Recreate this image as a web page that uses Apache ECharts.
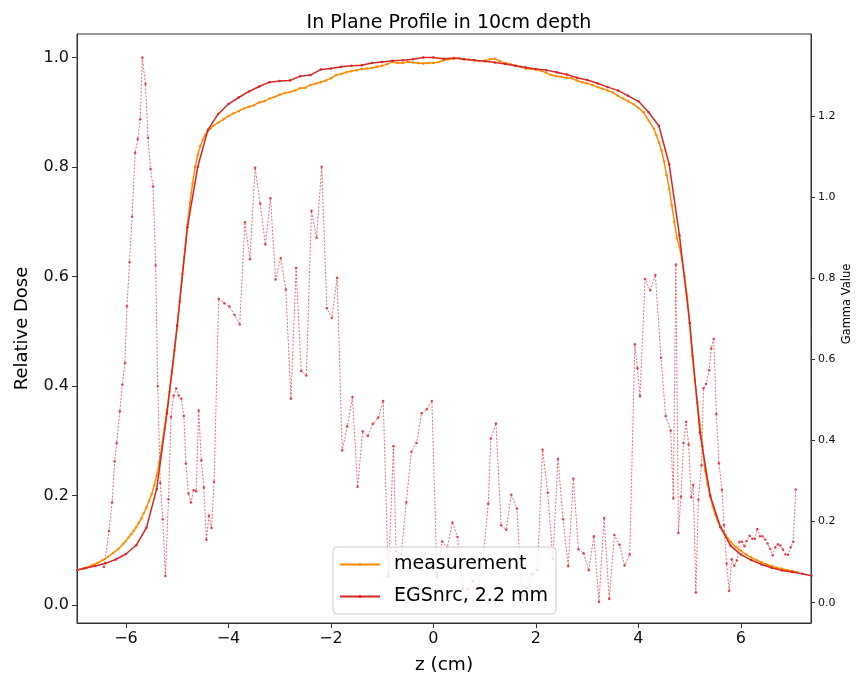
<!DOCTYPE html>
<html>
<head>
<meta charset="utf-8">
<script src="https://cdn.jsdelivr.net/npm/echarts@6/dist/echarts.min.js"></script>
<style>
html,body{margin:0;padding:0;background:#fff;}
#chart{width:857px;height:679px;}
</style>
</head>
<body>
<div id="chart"></div>
<script>
// ---- data ----
const xTicks = [-6, -4, -2, 0, 2, 4, 6];
const doseTicks = [0, 0.2, 0.4, 0.6, 0.8, 1.0];
const gammaTicks = [0, 0.2, 0.4, 0.6, 0.8, 1.0, 1.2];

const measZ = [-6.95,-6.85,-6.75,-6.65,-6.55,-6.45,-6.35,-6.25,-6.15,-6.05,-6.00,-5.95,-5.90,-5.85,-5.80,-5.75,-5.70,-5.65,-5.60,-5.55,-5.50,-5.45,-5.40,-5.35,-5.30,-5.25,-5.20,-5.15,-5.10,-5.05,-5.00,-4.95,-4.90,-4.85,-4.80,-4.75,-4.70,-4.65,-4.60,-4.55,-4.50,-4.45,-4.40,-4.35,-4.30,-4.20,-4.10,-4.00,-3.90,-3.80,-3.70,-3.60,-3.50,-3.40,-3.30,-3.20,-3.10,-3.00,-2.90,-2.80,-2.70,-2.60,-2.50,-2.40,-2.30,-2.20,-2.10,-2.00,-1.90,-1.80,-1.70,-1.60,-1.50,-1.40,-1.30,-1.20,-1.10,-1.00,-0.90,-0.80,-0.70,-0.60,-0.50,-0.40,-0.30,-0.20,-0.10,0.00,0.10,0.20,0.30,0.40,0.50,0.60,0.70,0.80,0.90,1.00,1.10,1.20,1.30,1.40,1.50,1.60,1.70,1.80,1.90,2.00,2.10,2.20,2.30,2.40,2.50,2.60,2.70,2.80,2.90,3.00,3.10,3.20,3.30,3.40,3.50,3.60,3.70,3.80,3.90,4.00,4.10,4.20,4.30,4.35,4.40,4.45,4.50,4.55,4.60,4.65,4.70,4.75,4.80,4.85,4.90,4.95,5.00,5.05,5.10,5.15,5.20,5.25,5.30,5.35,5.40,5.45,5.50,5.55,5.60,5.65,5.70,5.75,5.80,5.90,6.00,6.10,6.20,6.30,6.40,6.50,6.60,6.70,6.80,6.90,7.00,7.10];
const measDose = [0.064,0.066,0.069,0.073,0.077,0.082,0.088,0.095,0.102,0.112,0.117,0.123,0.129,0.135,0.142,0.150,0.158,0.168,0.178,0.190,0.202,0.218,0.236,0.260,0.290,0.322,0.355,0.390,0.425,0.465,0.510,0.555,0.605,0.650,0.695,0.735,0.770,0.800,0.822,0.838,0.850,0.859,0.866,0.871,0.875,0.881,0.887,0.893,0.898,0.902,0.907,0.910,0.913,0.918,0.920,0.925,0.928,0.932,0.935,0.937,0.940,0.944,0.945,0.950,0.952,0.955,0.958,0.962,0.968,0.970,0.973,0.975,0.977,0.979,0.980,0.981,0.983,0.985,0.988,0.992,0.990,0.990,0.992,0.991,0.990,0.989,0.990,0.990,0.992,0.995,0.997,0.998,0.999,0.997,0.996,0.995,0.993,0.994,0.997,0.998,0.993,0.990,0.988,0.985,0.983,0.980,0.979,0.978,0.976,0.972,0.968,0.966,0.965,0.963,0.962,0.958,0.955,0.953,0.950,0.946,0.943,0.940,0.936,0.930,0.925,0.920,0.915,0.908,0.900,0.885,0.870,0.858,0.845,0.830,0.810,0.785,0.760,0.730,0.700,0.670,0.655,0.630,0.600,0.565,0.515,0.455,0.410,0.370,0.330,0.290,0.245,0.220,0.198,0.180,0.165,0.153,0.143,0.135,0.128,0.121,0.115,0.106,0.099,0.092,0.087,0.082,0.078,0.074,0.071,0.068,0.066,0.064,0.062,0.060];

const egsZ = [-7.0,-6.8,-6.6,-6.4,-6.2,-6.0,-5.8,-5.6,-5.4,-5.2,-5.0,-4.8,-4.6,-4.4,-4.2,-4.0,-3.8,-3.6,-3.4,-3.2,-3.0,-2.8,-2.6,-2.4,-2.2,-2.0,-1.8,-1.6,-1.4,-1.2,-1.0,-0.8,-0.6,-0.4,-0.2,0.0,0.2,0.4,0.6,0.8,1.0,1.2,1.4,1.6,1.8,2.0,2.2,2.4,2.6,2.8,3.0,3.2,3.4,3.6,3.8,4.0,4.2,4.4,4.6,4.8,5.0,5.2,5.4,5.6,5.8,6.0,6.2,6.4,6.6,6.8,7.0,7.2,7.4];
const egsDose = [0.063,0.067,0.071,0.076,0.083,0.093,0.109,0.141,0.212,0.350,0.510,0.690,0.800,0.868,0.897,0.915,0.927,0.938,0.947,0.955,0.957,0.958,0.966,0.968,0.978,0.980,0.983,0.985,0.986,0.990,0.992,0.994,0.995,0.997,1.000,1.000,0.998,0.999,0.997,0.995,0.993,0.991,0.988,0.985,0.982,0.979,0.977,0.973,0.969,0.963,0.959,0.953,0.946,0.940,0.930,0.920,0.900,0.875,0.805,0.675,0.515,0.315,0.200,0.142,0.108,0.092,0.082,0.074,0.068,0.063,0.060,0.057,0.053];

const gammaZ = [-6.43,-6.33,-6.27,-6.22,-6.18,-6.12,-6.07,-6.02,-5.98,-5.93,-5.88,-5.82,-5.77,-5.72,-5.68,-5.62,-5.57,-5.52,-5.47,-5.42,-5.38,-5.33,-5.28,-5.23,-5.17,-5.12,-5.07,-5.02,-4.97,-4.92,-4.87,-4.83,-4.78,-4.73,-4.68,-4.63,-4.58,-4.53,-4.48,-4.43,-4.38,-4.33,-4.28,-4.19,-4.08,-3.98,-3.88,-3.78,-3.68,-3.58,-3.48,-3.38,-3.28,-3.18,-3.08,-2.98,-2.88,-2.78,-2.68,-2.58,-2.48,-2.38,-2.28,-2.18,-2.08,-1.98,-1.88,-1.78,-1.68,-1.58,-1.48,-1.38,-1.28,-1.18,-1.08,-0.98,-0.88,-0.78,-0.73,-0.63,-0.53,-0.43,-0.33,-0.23,-0.13,-0.03,0.07,0.17,0.27,0.37,0.47,0.57,0.67,0.77,0.87,0.97,1.07,1.12,1.22,1.32,1.42,1.52,1.63,1.73,1.83,1.93,2.03,2.13,2.23,2.33,2.43,2.53,2.63,2.73,2.83,2.93,3.03,3.13,3.23,3.33,3.43,3.53,3.63,3.73,3.83,3.93,3.98,4.03,4.13,4.23,4.33,4.44,4.53,4.63,4.68,4.73,4.78,4.83,4.88,4.93,4.98,5.03,5.07,5.12,5.17,5.23,5.27,5.32,5.38,5.42,5.47,5.52,5.57,5.63,5.67,5.72,5.77,5.82,5.87,5.92,5.97,6.02,6.07,6.11,6.17,6.22,6.27,6.32,6.37,6.42,6.47,6.52,6.57,6.62,6.67,6.72,6.77,6.82,6.87,6.92,6.97,7.02,7.07];
const gammaVal = [0.088,0.177,0.247,0.349,0.394,0.472,0.538,0.591,0.731,0.840,0.952,1.109,1.143,1.192,1.344,1.279,1.146,1.069,1.026,0.831,0.534,0.295,0.206,0.066,0.255,0.458,0.510,0.528,0.511,0.503,0.460,0.343,0.269,0.247,0.277,0.275,0.474,0.351,0.284,0.155,0.215,0.184,0.298,0.749,0.738,0.730,0.709,0.686,0.938,0.847,1.072,0.984,0.883,0.997,0.797,0.850,0.772,0.503,0.825,0.571,0.560,0.966,0.900,1.075,0.726,0.702,0.801,0.375,0.435,0.507,0.285,0.423,0.411,0.441,0.456,0.497,0.065,0.386,0.127,0.119,0.247,0.372,0.394,0.467,0.477,0.497,0.063,0.151,0.136,0.198,0.162,0.035,0.033,0.053,0.033,0.110,0.244,0.405,0.442,0.191,0.180,0.266,0.232,0.001,0.036,0.070,0.081,0.377,0.271,0.108,0.355,0.206,0.090,0.306,0.132,0.122,0.080,0.164,0.002,0.209,0.009,0.167,0.143,0.092,0.119,0.637,0.578,0.509,0.798,0.770,0.808,0.604,0.460,0.424,0.257,0.834,0.172,0.261,0.394,0.446,0.390,0.260,0.291,0.025,0.254,0.339,0.529,0.539,0.573,0.627,0.650,0.465,0.344,0.278,0.191,0.096,0.029,0.107,0.091,0.104,0.150,0.150,0.139,0.152,0.165,0.158,0.157,0.182,0.164,0.164,0.156,0.146,0.133,0.117,0.137,0.144,0.141,0.131,0.119,0.118,0.137,0.150,0.279];

// ---- chart ----
const FONT = 'DejaVu Sans';
const fmt = (v, d) => (v < 0 ? '\u2212' : '') + Math.abs(v).toFixed(d);
const zip = (a, b) => a.map((v, i) => [v, b[i]]);

const chart = echarts.init(document.getElementById('chart'), null, {renderer: 'canvas'});
chart.setOption({
  animation: false,
  backgroundColor: '#ffffff',
  textStyle: {fontFamily: FONT},
  title: {
    text: 'In Plane Profile in 10cm depth',
    left: 444, top: 9, textAlign: 'center',
    textStyle: {fontFamily: FONT, fontSize: 19, fontWeight: 'normal', color: '#000'}
  },
  graphic: [{
    type: 'text', x: 847, y: 304, rotation: Math.PI / 2,
    style: {text: 'Gamma Value', fontFamily: FONT, fontSize: 11.5, fill: '#000', align: 'center', verticalAlign: 'middle'}
  }],
  grid: {left: 77, right: 46, top: 34, bottom: 56, outerBoundsMode: 'none', containLabel: false,
         show: true, borderColor: '#333', borderWidth: 1, backgroundColor: 'transparent'},
  legend: {
    data: ['measurement', 'EGSnrc, 2.2 mm'],
    orient: 'vertical',
    left: 333, top: 547, z: 20,
    itemWidth: 40, itemHeight: 4, itemGap: 13,
    padding: [8, 8, 8, 6],
    backgroundColor: 'rgba(255,255,255,0.8)',
    borderColor: '#cccccc', borderWidth: 1, borderRadius: 4,
    textStyle: {fontFamily: FONT, fontSize: 19, color: '#000', padding: [0, 0, 0, 9]}
  },
  xAxis: {
    type: 'value', min: -6.955, max: 7.367,
    name: 'z (cm)', nameLocation: 'middle', nameGap: 33,
    nameTextStyle: {fontFamily: FONT, fontSize: 18.5, color: '#000'},
    axisLine: {show: true, onZero: false, lineStyle: {color: '#333', width: 1}},
    axisTick: {show: true, inside: false, length: 5, customValues: xTicks, lineStyle: {color: '#333'}},
    axisLabel: {customValues: xTicks, fontFamily: FONT, fontSize: 16, color: '#111', margin: 8, formatter: v => fmt(v, 0)},
    splitLine: {show: false}
  },
  yAxis: [{
    type: 'value', min: -0.033, max: 1.043,
    name: 'Relative Dose', nameLocation: 'middle', nameGap: 46, nameRotate: 90,
    nameTextStyle: {fontFamily: FONT, fontSize: 18, color: '#000'},
    axisLine: {show: true, onZero: false, lineStyle: {color: '#333', width: 1}},
    axisTick: {show: true, inside: false, length: 5, customValues: doseTicks, lineStyle: {color: '#333'}},
    axisLabel: {customValues: doseTicks, fontFamily: FONT, fontSize: 16, color: '#111', margin: 8, formatter: v => fmt(v, 1)},
    splitLine: {show: false}
  }, {
    type: 'value', min: -0.050, max: 1.402, position: 'right',
    axisLine: {show: true, onZero: false, lineStyle: {color: '#333', width: 1}},
    axisTick: {show: true, inside: false, length: 4, customValues: gammaTicks, lineStyle: {color: '#333'}},
    axisLabel: {customValues: gammaTicks, fontFamily: FONT, fontSize: 11, color: '#111', margin: 7, formatter: v => fmt(v, 1)},
    splitLine: {show: false}
  }],
  series: [{
    name: 'measurement', type: 'line', data: zip(measZ, measDose),
    color: '#ff8c00', showSymbol: true, symbol: 'circle', symbolSize: 2.5,
    lineStyle: {width: 1.5, color: '#ff8c00'}, itemStyle: {color: '#ff8c00'}, z: 2
  }, {
    name: 'EGSnrc, 2.2 mm', type: 'line', data: zip(egsZ, egsDose),
    color: '#d62728', showSymbol: true, symbol: 'circle', symbolSize: 2.5,
    lineStyle: {width: 1.5, color: '#d62728'}, itemStyle: {color: '#d62728'}, z: 3
  }, {
    name: 'gamma', type: 'line', yAxisIndex: 1, data: zip(gammaZ, gammaVal),
    showSymbol: true, symbol: 'circle', symbolSize: 2.5,
    lineStyle: {width: 0.9, color: 'rgba(225,40,45,0.75)', type: [2, 1.5]},
    itemStyle: {color: 'rgba(215,30,35,0.8)'}, z: 4
  }]
});
</script>
</body>
</html>
